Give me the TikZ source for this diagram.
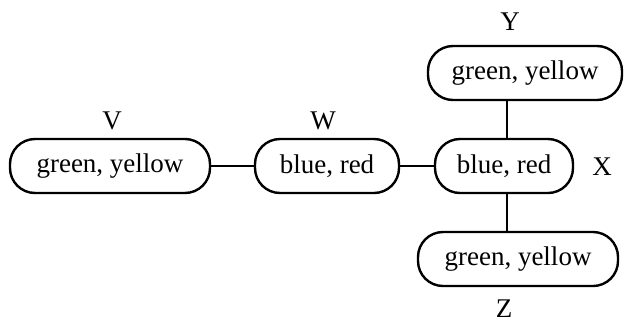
\documentclass[tikz,border=0pt]{standalone}
\usepackage{fontspec}
\setmainfont{Liberation Serif}
\usetikzlibrary{positioning}

\begin{document}
\begin{tikzpicture}[x=0.5pt,y=-0.5pt]
 \tikzstyle{valbox}=[rectangle,rounded corners=12.5pt,draw=black,line width=1.2pt,minimum height=27pt,inner sep=0pt,font=\fontsize{13.5}{15}\selectfont]
 \tikzstyle{varlab}=[inner sep=0pt,font=\fontsize{13.5}{15}\selectfont]
 \useasboundingbox (0,0) rectangle (625,322);
 \node[valbox,minimum width=100pt] (v) at (110,166) {green, yellow};
 \node[valbox,minimum width=72pt] (w) at (327,166) {blue, red};
 \node[valbox,minimum width=69pt] (x) at (504,166) {blue, red};
 \node[valbox,minimum width=97pt] (y) at (525,73) {green, yellow};
 \node[valbox,minimum width=100pt] (z) at (518,259) {green, yellow};
 \node[varlab] (vlab) at (112,121) {V};
 \node[varlab] (wlab) at (323,121) {W};
 \node[varlab] (xlab) at (602,167) {X};
 \node[varlab] (ylab) at (510,22) {Y};
 \node[varlab] (zlab) at (504,309) {Z};
 \draw[line width=1.2pt] (v) -- (w);
 \draw[line width=1.2pt] (w) -- (x);
 \draw[line width=1.2pt] ([xshift=1.5pt]x.north) -- ([xshift=1.5pt]x.north |- y.south);
 \draw[line width=1.2pt] ([xshift=1.5pt]x.south) -- ([xshift=1.5pt]x.south |- z.north);
\end{tikzpicture}
\end{document}
